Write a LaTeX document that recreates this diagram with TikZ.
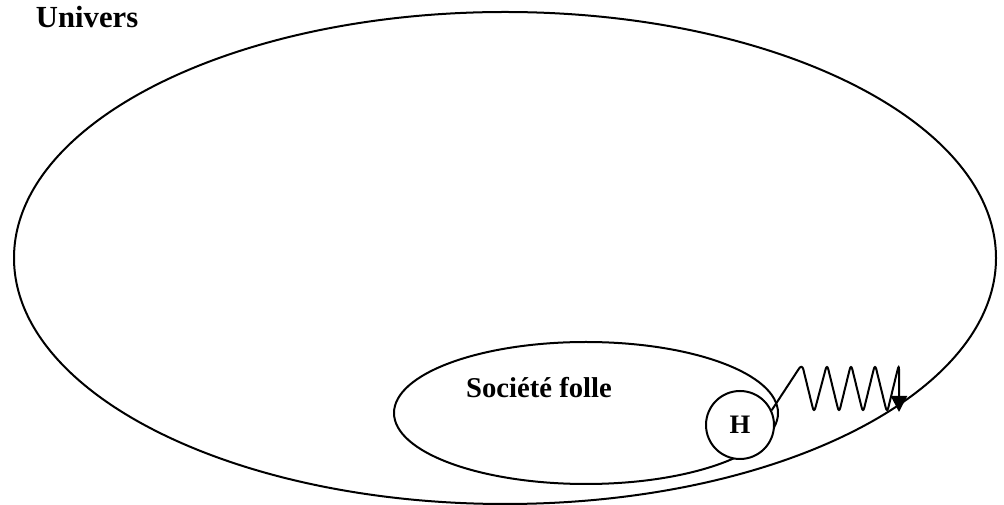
\documentclass[tikz,border=0pt]{standalone}
\usepackage{fontspec}
\setmainfont{Liberation Serif}
\usepackage{tikz}
\usetikzlibrary{shapes.geometric,arrows.meta}

\begin{document}
\begin{tikzpicture}[x=0.75pt,y=-0.75pt,line width=1.5pt,
  ens/.style={draw,ellipse,inner sep=0pt},
  titre/.style={inner sep=0pt,font=\bfseries\fontsize{#1}{#1}\selectfont}]
\useasboundingbox (0,0) rectangle (1004,505);
%Univers p=(505,258)
\node[ens,minimum width=736.5pt,minimum height=369pt] (univers) at (505,258) {};
\node[titre=23pt,anchor=base west] (tunivers) at (35,28) {Univers};
%Societe p=(586,413)
\node[ens,minimum width=288pt,minimum height=106.5pt] (societe) at (586,413) {};
\node[titre=21.5pt,anchor=base] (tsociete) at (539,398) {Société folle};
%H p=(740,425)
\node[draw,circle,fill=white,minimum size=51pt,inner sep=0pt,font=\bfseries\fontsize{20pt}{20pt}\selectfont] (H) at (740,425) {H};
\coordinate (impact) at (899,412);
\draw[-{Triangle[length=12pt,width=12pt]},rounded corners=4pt] (H.25) -- (802,364) -- (814,413) -- (827,364) -- (839,413)
 -- (851,364) -- (863,413) -- (875,364) -- (887,413) -- (899,364) -- (impact); %ressort
\end{tikzpicture}
\end{document}
